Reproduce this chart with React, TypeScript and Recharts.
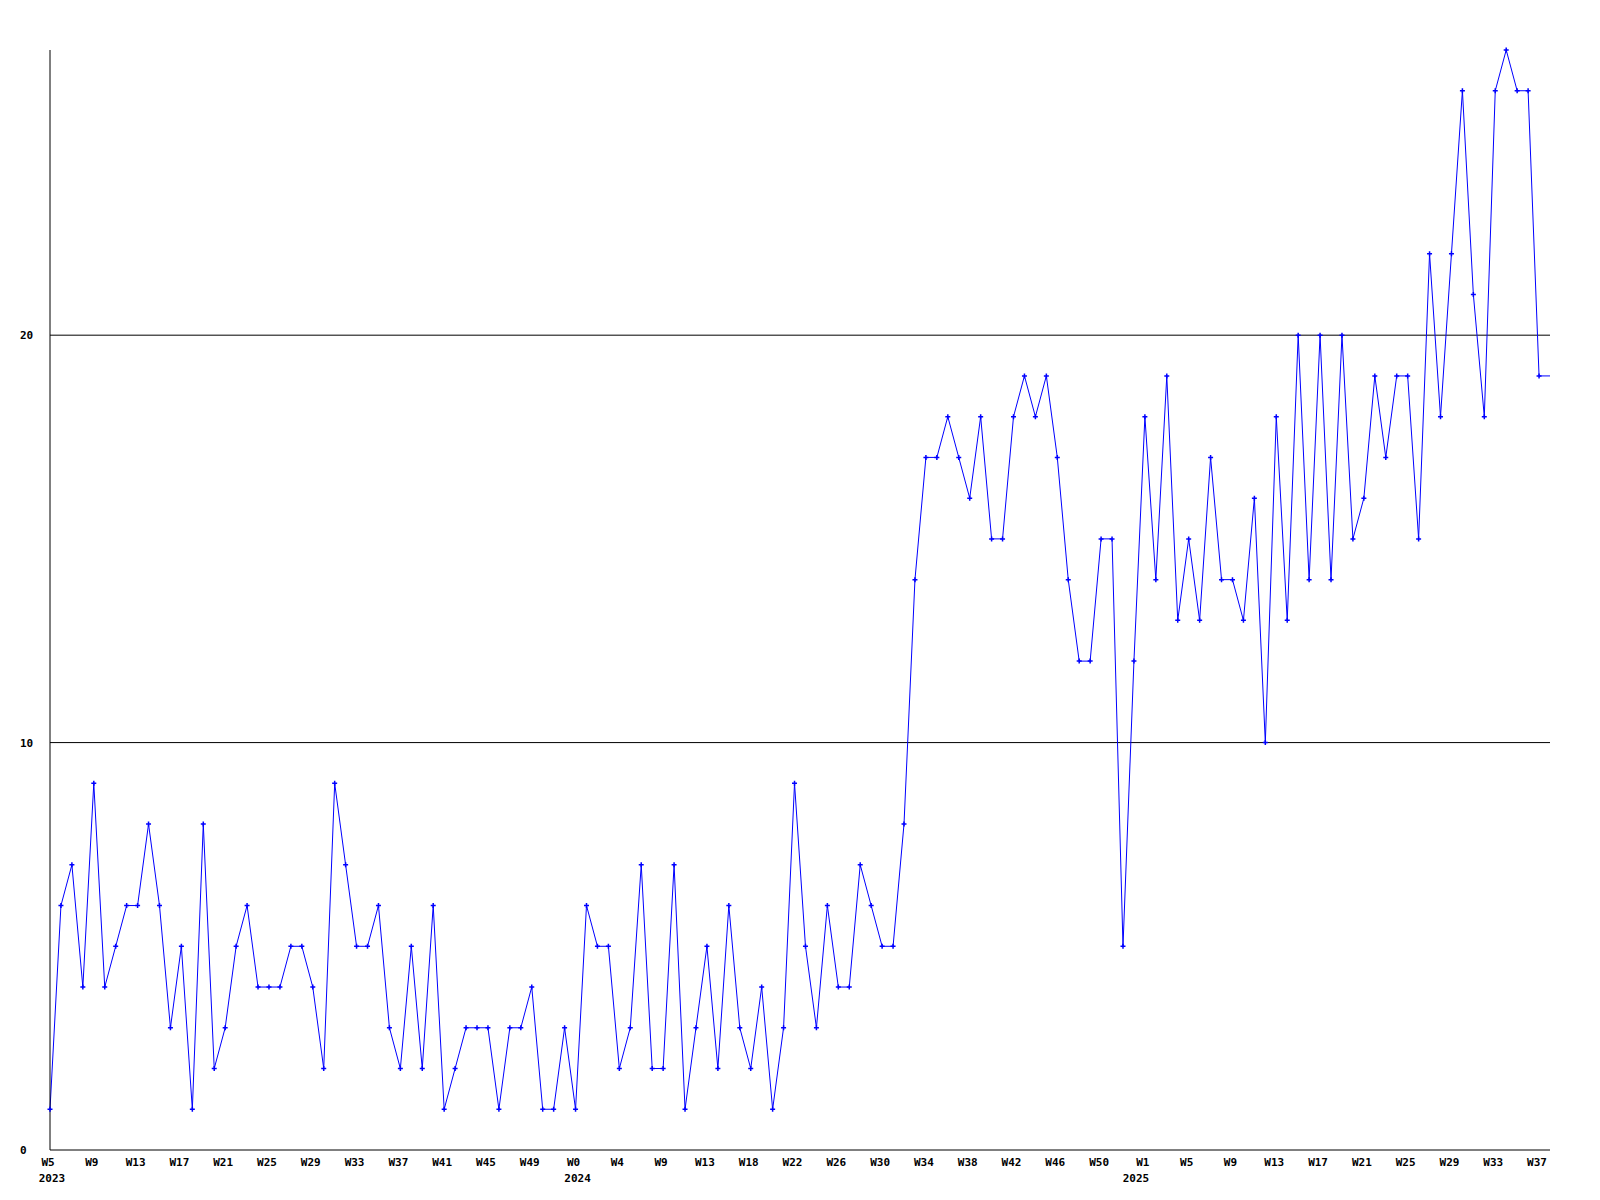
import { CartesianGrid, Line, LineChart, XAxis, YAxis } from "recharts";

// weekly counts, W5 2023 .. W38 2025
const counts = [
  1, 6, 7, 4, 9, 4, 5, 6, 6, 8, 6, 3, 5, 1, 8, 2, 3, 5, 6, 4, 4, 4, 5, 5, 4, 2, 9, 7, 5, 5, 6, 3, 2, 5, 2, 6, 1,
  2, 3, 3, 3, 1, 3, 3, 4, 1, 1, 3, 1, 6, 5, 5, 2, 3, 7, 2, 2, 7, 1, 3, 5, 2, 6, 3, 2, 4, 1, 3, 9, 5, 3, 6, 4, 4, 7,
  6, 5, 5, 8, 14, 17, 17, 18, 17, 16, 18, 15, 15, 18, 19, 18, 19, 17, 14, 12, 12, 15, 15, 5, 12, 18, 14, 19, 13, 15,
  13, 17, 14, 14, 13, 16, 10,
  18, 13, 20, 14, 20, 14, 20, 15, 16, 19, 17, 19, 19, 15, 22, 18, 22, 26, 21, 18, 26, 27, 26, 26, 19, 19
];

// one label every 4 weeks
const weekLabels = [
  "W5", "W9", "W13", "W17", "W21", "W25", "W29", "W33", "W37", "W41", "W45", "W49",
  "W0", "W4", "W9", "W13", "W18", "W22", "W26", "W30", "W34", "W38", "W42", "W46", "W50",
  "W1", "W5", "W9", "W13", "W17", "W21", "W25", "W29", "W33", "W37"
];
const years = ["2023", "2024", "2025"];
const yearStart = [0, 48, 99];
const yTicks = [0, 10, 20];

const data = counts.map((v, i) => ({ idx: i, value: v }));
const xTicks = weekLabels.map((_, i) => i * 4);

const font = { fontFamily: "'DejaVu Sans Mono', monospace", fontWeight: 700, fontSize: 11 };

function WeekTick(props: any) {
  const { x, y, payload } = props;
  return (
    <text x={x - 2} y={y + 8} textAnchor="middle" fill="#000" style={font}>
      {weekLabels[payload.value / 4]}
    </text>
  );
}

function YearTick(props: any) {
  const { x, y, payload } = props;
  return (
    <text x={x + 2} y={y + 4} textAnchor="middle" fill="#000" style={font}>
      {years[yearStart.indexOf(payload.value)]}
    </text>
  );
}

function ValueTick(props: any) {
  const { y, payload } = props;
  return (
    <text x={20} y={y + 4} textAnchor="start" fill="#000" style={font}>
      {payload.value}
    </text>
  );
}

function Marker(props: any) {
  const { cx, cy, index } = props;
  if (index === counts.length - 1) return <g key={index} />;
  return (
    <path
      key={index}
      d={`M${cx - 2.5},${cy}H${cx + 2.5}M${cx},${cy - 2.5}V${cy + 2.5}`}
      stroke="#0000ff"
      strokeWidth={1.5}
    />
  );
}

export default function App() {
  return (
    <div style={{ position: "absolute", left: 0, top: 0, background: "#fff" }}>
      <LineChart width={1600} height={1200} data={data} margin={{ top: 50, right: 50, left: 0, bottom: 0 }}>
        <CartesianGrid vertical={false} horizontalValues={[10, 20]} stroke="#000" strokeWidth={1} />
        <XAxis
          type="number"
          dataKey="idx"
          domain={[0, counts.length - 1]}
          ticks={xTicks}
          interval={0}
          height={20}
          axisLine={{ stroke: "#000" }}
          tickLine={false}
          tick={<WeekTick />}
        />
        <XAxis
          xAxisId="years"
          type="number"
          dataKey="idx"
          domain={[0, counts.length - 1]}
          ticks={yearStart}
          interval={0}
          height={30}
          axisLine={false}
          tickLine={false}
          tick={<YearTick />}
        />
        <YAxis
          width={50}
          domain={[0, 27]}
          ticks={yTicks}
          axisLine={{ stroke: "#000" }}
          tickLine={false}
          tick={<ValueTick />}
        />
        <Line
          type="linear"
          dataKey="value"
          stroke="#0000ff"
          strokeWidth={1}
          dot={<Marker />}
          activeDot={false}
          isAnimationActive={false}
        />
      </LineChart>
    </div>
  );
}
